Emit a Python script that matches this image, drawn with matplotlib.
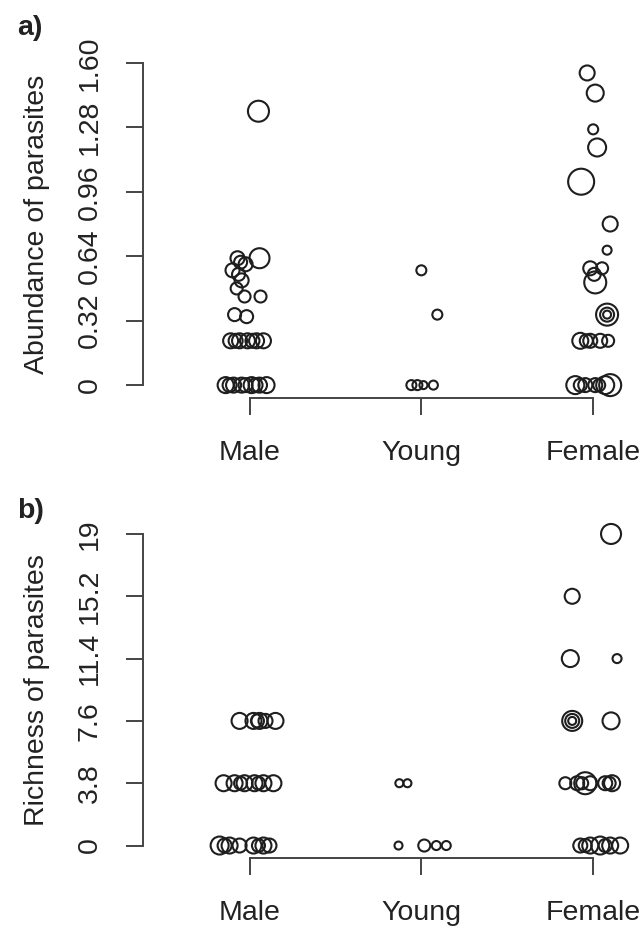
import matplotlib
matplotlib.use("Agg")
import matplotlib.pyplot as plt
import numpy as np

plt.rcParams['font.family'] = ['Liberation Sans', 'DejaVu Sans']

GROUPS = ["Male", "Young", "Female"]

# ---- a) abundance: value, jitter (in category units), cex ----
male_ab = [1.36, 0.63, 0.63, 0.61, 0.60, 0.57, 0.55, 0.52, 0.48, 0.44, 0.44, 0.35, 0.34,
           0.22, 0.22, 0.22, 0.22, 0.22, 0.22, 0.22,
           0, 0, 0, 0, 0, 0, 0, 0, 0]
male_ab_jit = [0.052, 0.058, -0.070, -0.052, -0.023, -0.099, -0.064, -0.046, -0.075, -0.029, 0.064, -0.087, -0.017,
               -0.110, -0.081, -0.058, -0.012, 0.017, 0.041, 0.081,
               -0.139, -0.116, -0.093, -0.046, -0.023, 0.012, 0.035, 0.058, 0.099]
male_ab_cex = [2.1, 2.0, 1.4, 1.3, 1.4, 1.4, 1.3, 1.4, 1.2, 1.2, 1.2, 1.3, 1.3,
               1.5, 1.4, 1.5, 1.5, 1.4, 1.5, 1.5,
               1.6, 1.4, 1.5, 1.5, 1.4, 1.6, 1.4, 1.5, 1.6]

young_ab = [0.57, 0.35, 0, 0, 0, 0]
young_ab_jit = [0.0, 0.093, -0.058, -0.023, 0.012, 0.070]
young_ab_cex = [1.0, 1.0, 1.0, 1.0, 0.8, 0.9]

female_ab = [1.55, 1.45, 1.27, 1.18, 1.01, 0.80, 0.67, 0.58, 0.58, 0.55, 0.51, 0.35, 0.35, 0.35,
             0.22, 0.22, 0.22, 0.22, 0.22, 0, 0, 0, 0, 0, 0, 0]
female_ab_jit = [-0.035, 0.012, 0.0, 0.023, -0.070, 0.099, 0.081, -0.017, 0.052, 0.006, 0.012, 0.081, 0.081, 0.081,
                 -0.075, -0.040, -0.017, 0.041, 0.087, -0.104, -0.075, -0.046, 0.012, 0.035, 0.070, 0.099]
female_ab_cex = [1.5, 1.7, 1.0, 1.8, 2.6, 1.5, 0.9, 1.4, 1.2, 1.3, 2.2, 2.2, 1.4, 0.8,
                 1.6, 1.3, 1.4, 1.4, 1.2, 1.8, 1.3, 1.4, 1.4, 1.2, 1.8, 2.2]

# ---- b) richness ----
male_ri = [7.6, 7.6, 7.6, 7.6, 7.6, 7.6,
           3.8, 3.8, 3.8, 3.8, 3.8, 3.8, 3.8, 3.8,
           0, 0, 0, 0, 0, 0, 0, 0]
male_ri_jit = [-0.058, 0.023, 0.046, 0.058, 0.093, 0.151,
               -0.151, -0.087, -0.052, -0.029, 0.029, 0.052, 0.081, 0.139,
               -0.174, -0.145, -0.116, -0.058, 0.023, 0.052, 0.081, 0.116]
male_ri_cex = [1.6, 1.6, 1.3, 1.6, 1.4, 1.6,
               1.6, 1.6, 1.3, 1.6, 1.6, 1.3, 1.6, 1.6,
               1.8, 1.4, 1.6, 1.4, 1.6, 1.3, 1.6, 1.4]

young_ri = [3.8, 3.8, 0, 0, 0, 0]
young_ri_jit = [-0.128, -0.081, -0.133, 0.017, 0.087, 0.145]
young_ri_cex = [0.8, 0.8, 0.8, 1.2, 0.9, 0.9]

female_ri = [19, 15.2, 11.4, 11.4, 7.6, 7.6, 7.6, 7.6,
             3.8, 3.8, 3.8, 3.8, 3.8, 3.8, 3.8, 3.8, 0, 0, 0, 0, 0, 0, 0]
female_ri_jit = [0.104, -0.122, -0.133, 0.139, -0.122, -0.122, -0.122, 0.104,
                 -0.162, -0.093, -0.064, -0.046, -0.017, 0.070, 0.093, 0.110,
                 -0.075, -0.046, -0.017, 0.041, 0.070, 0.099, 0.157]
female_ri_cex = [2.0, 1.5, 1.7, 0.9, 2.0, 1.4, 0.8, 1.7,
                 1.2, 1.4, 1.2, 2.2, 1.4, 1.4, 1.3, 1.6,
                 1.4, 1.3, 1.6, 1.8, 1.3, 1.6, 1.6]

abund_ticks = [0, 0.32, 0.64, 0.96, 1.28, 1.60]
abund_labels = ["0", "0.32", "0.64", "0.96", "1.28", "1.60"]
rich_ticks = [0, 3.8, 7.6, 11.4, 15.2, 19]
rich_labels = ["0", "3.8", "7.6", "11.4", "15.2", "19"]

FS = 20.5
AXCOL = "#444444"
TXTCOL = "#222222"


def strip(ax, series, ticks, labels, ylabel):
    for i, (vals, jit, cex) in enumerate(series):
        x = (i + 1) + np.array(jit)
        s = (np.array(cex) * 7.2) ** 2
        ax.scatter(x, vals, s=s, facecolors="none", edgecolors="#1e1e1e", linewidths=1.5)
    top = ticks[-1]
    ax.set_xlim(0.38, 3.29)
    ax.set_ylim(-0.04 * top, 1.04 * top)
    for side in ["top", "right"]:
        ax.spines[side].set_visible(False)
    ax.spines["left"].set_bounds(0, top)
    ax.spines["bottom"].set_bounds(1, 3)
    for side in ["left", "bottom"]:
        ax.spines[side].set_color(AXCOL)
        ax.spines[side].set_linewidth(1.4)
    ax.set_yticks(ticks)
    ax.set_yticklabels(labels, rotation=90, va="center", fontsize=FS, color=TXTCOL)
    ax.set_xticks([1, 2, 3])
    ax.set_xticklabels(GROUPS, fontsize=FS, color=TXTCOL)
    ax.tick_params(axis="both", length=12, width=1.4, color=AXCOL)
    ax.tick_params(axis="y", pad=17)
    ax.tick_params(axis="x", pad=18)
    ax.set_ylabel(ylabel, fontsize=FS, color=TXTCOL)
    ax.yaxis.set_label_coords(-0.212, 0.5)
    ax.yaxis.label.set_va("center")


fig = plt.figure(figsize=(6.43, 9.34), dpi=100)
ax1 = fig.add_axes([143 / 643, 1 - 398 / 934, 500 / 643, 348 / 934])
ax2 = fig.add_axes([143 / 643, 1 - 858 / 934, 500 / 643, 336.5 / 934])

strip(ax1, [(male_ab, male_ab_jit, male_ab_cex),
            (young_ab, young_ab_jit, young_ab_cex),
            (female_ab, female_ab_jit, female_ab_cex)],
      abund_ticks, abund_labels, "Abundance of parasites")
strip(ax2, [(male_ri, male_ri_jit, male_ri_cex),
            (young_ri, young_ri_jit, young_ri_cex),
            (female_ri, female_ri_jit, female_ri_cex)],
      rich_ticks, rich_labels, "Richness of parasites")

fig.text(17 / 643, 1 - 35 / 934, "a)", fontsize=FS, fontweight="bold", ha="left", va="baseline", color=TXTCOL)
fig.text(17 / 643, 1 - 518 / 934, "b)", fontsize=FS, fontweight="bold", ha="left", va="baseline", color=TXTCOL)

fig.savefig("out.png", dpi=100)
